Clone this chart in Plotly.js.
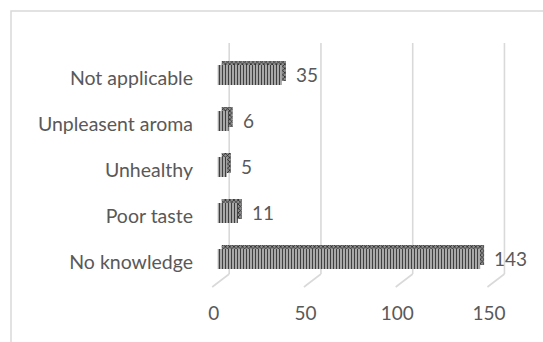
<!DOCTYPE html>
<html>
<head>
<meta charset="utf-8">
<script src="https://cdn.plot.ly/plotly-3.0.1.min.js"></script>
<style>
  html, body { margin: 0; padding: 0; background: #ffffff; }
  #chart { width: 543px; height: 342px; }
</style>
</head>
<body>
<div id="chart"></div>
<script>
// Reasons given (bottom to top in the chart)
const reasons = ['No knowledge', 'Poor taste', 'Unhealthy', 'Unpleasent aroma', 'Not applicable'];
const counts = [143, 11, 5, 6, 35];
const tickValues = [0, 50, 100, 150];

// Layout geometry (pixels)
const W = 543, H = 342;
const plotLeft = 200, plotRight = 518, plotTop = 43, plotBottom = 274;
const pxPerUnit = 1.835;       // horizontal scale of the value axis
const frontZeroPx = 217.7;     // where 0 sits on the front face of the bars
const rowPx = 46;              // spacing between categories
const frontRow0Px = 259;       // centre of the first bar's front face
const depthX = 4, depthY = 4;  // 3-D depth of the bars
const gridShift = 11.5;        // back wall is offset to the right of the bar faces
const floorDrop = 13;          // floor lines run forward/down from the back wall
const floorLeft = -17;

const plotH = plotBottom - plotTop;

function xRange(zeroPx) {
  return [(plotLeft - zeroPx) / pxPerUnit, (plotRight - zeroPx) / pxPerUnit];
}
function yRange(row0Px) {
  const r0 = -(plotBottom - row0Px) / rowPx;
  return [r0, r0 + plotH / rowPx];
}

const textColor = '#595959';
const gridColor = '#d9d9d9';
const fontFamily = 'Lato, "Open Sans", sans-serif';
const barWidth = 20 / rowPx;

// Depth (top and side faces) of each bar, drawn behind the front faces
const depthTrace = {
  type: 'bar',
  orientation: 'h',
  x: counts,
  y: reasons,
  xaxis: 'x',
  yaxis: 'y',
  width: barWidth,
  marker: {
    color: '#555555',
    line: { width: 0 },
    pattern: { shape: 'x', fgcolor: '#262626', bgcolor: '#8c8c8c', size: 3, solidity: 0.45 }
  },
  hoverinfo: 'skip',
  showlegend: false
};

// Striped front faces
const frontTrace = {
  type: 'bar',
  orientation: 'h',
  x: counts,
  y: reasons,
  xaxis: 'x2',
  yaxis: 'y2',
  width: barWidth,
  marker: {
    color: '#bdbdbd',
    line: { width: 0 },
    pattern: { shape: '|', fgcolor: '#3f3f3f', bgcolor: '#cbcbcb', size: 3, solidity: 0.5 }
  },
  showlegend: false
};

// Back-wall gridlines and their floor lines
const shapes = [];
tickValues.forEach(v => {
  shapes.push({
    type: 'line', layer: 'below',
    xref: 'x2', xsizemode: 'pixel', xanchor: v, x0: gridShift, x1: gridShift,
    yref: 'paper', y0: 0, y1: 1,
    line: { color: gridColor, width: 1.6 }
  });
  shapes.push({
    type: 'line', layer: 'below',
    xref: 'x2', xsizemode: 'pixel', xanchor: v, x0: gridShift, x1: gridShift + floorLeft,
    yref: 'paper', ysizemode: 'pixel', yanchor: 0, y0: 0, y1: -floorDrop,
    line: { color: gridColor, width: 1.6 }
  });
});

// Chart frame
shapes.push({
  type: 'rect', layer: 'below',
  xref: 'paper', xsizemode: 'pixel', xanchor: 0, x0: 11 - plotLeft, x1: W + 10 - plotLeft,
  yref: 'paper', ysizemode: 'pixel', yanchor: 1, y0: plotTop - 11, y1: plotTop - H - 10,
  line: { color: gridColor, width: 1.5 },
  fillcolor: 'rgba(0,0,0,0)'
});

const labelFont = { family: fontFamily, size: 19, color: textColor };
const categoryFont = { family: fontFamily, size: 19.5, color: textColor };

// Value labels beside each bar
const annotations = counts.map((c, i) => ({
  xref: 'x2', yref: 'y2',
  x: c, y: reasons[i],
  text: String(c),
  showarrow: false,
  xanchor: 'left', yanchor: 'middle',
  xshift: 12, yshift: 1,
  font: labelFont
}));

const layout = {
  width: W,
  height: H,
  margin: { l: plotLeft, r: W - plotRight, t: plotTop, b: H - plotBottom, pad: 0 },
  paper_bgcolor: '#ffffff',
  plot_bgcolor: 'rgba(0,0,0,0)',
  barmode: 'overlay',
  showlegend: false,
  xaxis: {
    range: xRange(frontZeroPx + depthX),
    showgrid: false, zeroline: false, showline: false,
    showticklabels: false, ticks: '', fixedrange: true
  },
  yaxis: {
    type: 'category',
    categoryorder: 'array', categoryarray: reasons,
    range: yRange(frontRow0Px - depthY),
    showgrid: false, zeroline: false, showline: false,
    showticklabels: false, ticks: '', fixedrange: true
  },
  xaxis2: {
    overlaying: 'x', anchor: 'y2', side: 'bottom',
    range: xRange(frontZeroPx),
    tickmode: 'array', tickvals: tickValues, ticktext: tickValues.map(String),
    showgrid: false, zeroline: false, showline: false, ticks: '',
    ticklabelshift: -4, ticklabelstandoff: 26,
    tickfont: labelFont, fixedrange: true
  },
  yaxis2: {
    overlaying: 'y', anchor: 'x2', side: 'left',
    type: 'category',
    categoryorder: 'array', categoryarray: reasons,
    range: yRange(frontRow0Px),
    showgrid: false, zeroline: false, showline: false, ticks: '',
    ticklabelshift: 3, ticklabelstandoff: 6,
    tickfont: categoryFont, fixedrange: true
  },
  shapes: shapes,
  annotations: annotations
};

Plotly.newPlot('chart', [depthTrace, frontTrace], layout, { displayModeBar: false, staticPlot: true });
</script>
</body>
</html>
